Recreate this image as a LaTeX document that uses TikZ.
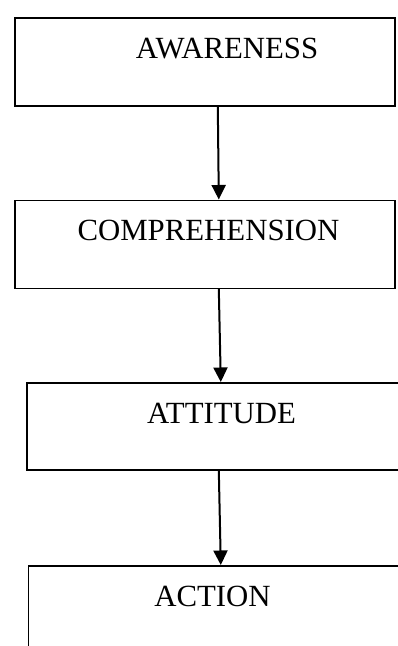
\documentclass[tikz,border=0pt]{standalone}
\usepackage{fontspec}
\setmainfont{Liberation Serif}
\usetikzlibrary{arrows.meta, positioning}

\begin{document}
\begin{tikzpicture}[
            x = 1pt, y = -1pt, % pixel grid, y going down
            > = {Triangle[length=14.5pt, width=14pt]}, % arrow head style
            stage/.style = {draw = black, line width = 1.6pt, rectangle,
                anchor = north west, inner sep = 0pt,
                minimum width = 380pt, minimum height = 88pt},
            tag/.style = {font = \fontsize{30.8}{36}\selectfont,
                anchor = base, inner sep = 0pt},
            flow/.style = {->, line width = 2pt} % line style
        ]

        \useasboundingbox (0,0) rectangle (398,646);
        \clip (0,0) rectangle (398,646);

        % the four stages
        \node[stage] (aware) at (14,17) {};
        \node[stage] (compr) at (14,199.5) {};
        \node[stage, minimum height = 87pt] (attit) at (26,382) {};
        \node[stage] (act) at (27.5,565) {};

        \node[tag] (awareT) at (227,58) {AWARENESS};
        \node[tag] (comprT) at (208.5,240) {COMPREHENSION};
        \node[tag] (attitT) at (221.5,423) {ATTITUDE};
        \node[tag] (actT) at (212.5,606) {ACTION};

        \draw[flow] ([xshift=13pt]aware.south) -- ([xshift=14pt]compr.north);
        \draw[flow] ([xshift=14pt]compr.south) -- ([xshift=4pt]attit.north);
        \draw[flow] ([xshift=2pt]attit.south) -- ([xshift=2.5pt]act.north);

    \end{tikzpicture}
\end{document}
